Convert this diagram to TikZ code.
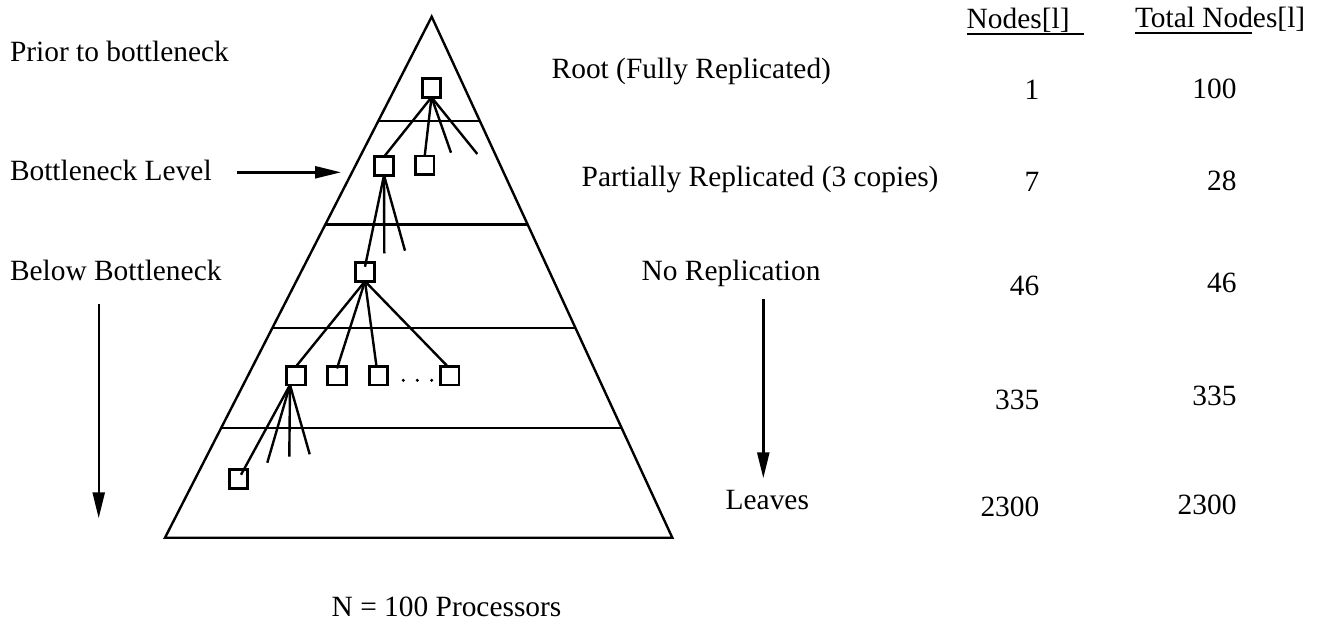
\documentclass[tikz,border=0pt]{standalone}
\usepackage{fontspec}
\setmainfont{Liberation Serif}
\usetikzlibrary{arrows.meta,calc}
\begin{document}
\begin{tikzpicture}[x=1pt,y=-1pt,
  every node/.style={inner sep=0pt,outer sep=0pt},
  lbl/.style={font=\fontsize{29.4}{35}\selectfont,anchor=base west},
  num/.style={font=\fontsize{29.4}{35}\selectfont,anchor=base east},
  tnode/.style={draw,line width=2.6pt,minimum size=18.5pt,shape=rectangle},
  edge/.style={line width=2.4pt},
  frame/.style={line width=2.4pt,line join=miter},
  bigarrow/.style={line width=2.4pt,-{Triangle[length=26pt,width=12pt]}},
  uline/.style={line width=1.8pt}]
\useasboundingbox (0,0) rectangle (1320,623);

% pyramid
\coordinate (apex) at (431.7,16.7);
\coordinate (bl) at (165,537.7);
\coordinate (br) at (672.3,537.7);
\draw[frame] (apex) -- (bl) -- (br) -- cycle;
\foreach \t in {0.2002,0.3985,0.5975,0.7889}
  \draw[frame] ($(apex)!\t!(bl)$) -- ($(apex)!\t!(br)$);

% tree nodes
\node[tnode] (r) at (431.5,88) {};
\node[tnode] (a) at (384,166) {};
\node[tnode] (b) at (424.7,165.3) {};
\node[tnode] (c) at (365,272) {};
\node[tnode] (d) at (296,375.7) {};
\node[tnode] (e) at (337,375.7) {};
\node[tnode] (f) at (378.5,375.7) {};
\node[tnode] (g) at (449.7,375.7) {};
\node[tnode] (h) at (238.5,479) {};

\coordinate (r3) at (451,152.7);
\coordinate (r4) at (477.3,154);
\coordinate (a2) at (384.3,253.3);
\coordinate (a3) at (405,250.7);
\coordinate (d2) at (267.3,462.7);
\coordinate (d3) at (289.3,456.7);
\coordinate (d4) at (309.7,454.3);
\coordinate (ds) at ([xshift=-6pt]d.south);

\draw[edge] (r.south) -- (a.north);
\draw[edge] (r.south) -- (b.north);
\draw[edge] (r.south) -- (r3);
\draw[edge] (r.south) -- (r4);
\draw[edge] (a.south) -- ([yshift=-4pt]c.north);
\draw[edge] (a.south) -- (a2);
\draw[edge] (a.south) -- (a3);
\draw[edge] (c.south) -- (d.north);
\draw[edge] (c.south) -- ([yshift=-2pt]e.north);
\draw[edge] (c.south) -- ([xshift=-2pt]f.north);
\draw[edge] (c.south) -- ([xshift=-2pt]g.north);
\draw[edge] (ds) -- ([xshift=2.5pt,yshift=-5pt]h.north);
\draw[edge] (ds) -- (d2);
\draw[edge] (ds) -- (d3);
\draw[edge] (ds) -- (d4);

% dots
\foreach \x in {403.3,417.3,431.7}
  \fill (\x,380.3) circle (1.7pt);

% left labels and arrows
\node[lbl] (prior) at (10,61.7) {Prior to bottleneck};
\node[lbl] (blev) at (10,180) {Bottleneck Level};
\node[lbl] (below) at (10,280.7) {Below Bottleneck};
\coordinate (h1) at (236.7,172.3);
\coordinate (h2) at (341,172.3);
\draw[bigarrow] (h1) -- (h2);
\coordinate (v1) at (98.7,304);
\coordinate (v2) at (98.7,518.3);
\draw[bigarrow] (v1) -- (v2);

% right labels and arrow
\node[lbl] (rootl) at (551.7,78.3) {Root (Fully Replicated)};
\node[lbl] (partl) at (581.7,186.7) {Partially Replicated (3 copies)};
\node[lbl] (norep) at (641.7,280) {No Replication};
\node[lbl] (leaves) at (725.7,509.3) {Leaves};
\coordinate (w1) at (763.3,299.3);
\coordinate (w2) at (763.3,478.3);
\draw[bigarrow] (w1) -- (w2);

% bottom label
\node[lbl] (nproc) at (331.7,616) {N = 100 Processors};

% table
\node[lbl] (h1t) at (966.7,28.3) {Nodes[l]};
\node[lbl] (h2t) at (1135,27.3) {Total Nodes[l]};
\coordinate (u1a) at (966.7,34.3);
\coordinate (u1b) at (1084,34.3);
\coordinate (u2a) at (1135,32.7);
\coordinate (u2b) at (1251.7,32.7);
\draw[uline] (u1a) -- (u1b);
\draw[uline] (u2a) -- (u2b);

\node[num] (n11) at (1039.3,100) {1};
\node[num] (n12) at (1039.3,191.7) {7};
\node[num] (n13) at (1039.3,295) {46};
\node[num] (n14) at (1039.3,409.3) {335};
\node[num] (n15) at (1039.3,516.7) {2300};
\node[num] (n21) at (1236.5,98.3) {100};
\node[num] (n22) at (1236.5,190) {28};
\node[num] (n23) at (1236.5,292.7) {46};
\node[num] (n24) at (1236.5,405) {335};
\node[num] (n25) at (1236.5,514) {2300};
\end{tikzpicture}
\end{document}
